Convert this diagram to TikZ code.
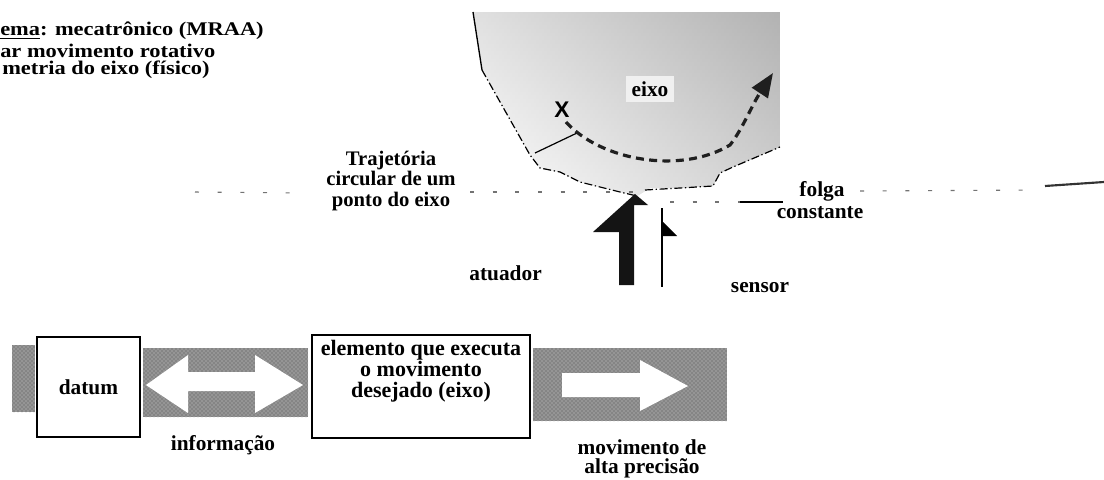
\documentclass[tikz,border=0pt]{standalone}
\usepackage{fontspec}
\setmainfont{Liberation Serif}
\newfontfamily\markfont{Liberation Sans}
\newfontfamily\widefont[FakeStretch=1.16]{Liberation Serif}
\usetikzlibrary{arrows.meta,patterns}

\begin{document}
\begin{tikzpicture}[x=0.75pt,y=-0.75pt,
  lbl/.style={font=\bfseries\fontsize{16}{21}\selectfont, inner sep=0pt, align=center},
  title/.style={font=\widefont\bfseries\fontsize{14.5}{14.3}\selectfont, inner sep=0pt, align=left, anchor=west},
  boxnode/.style={draw, line width=1pt, fill=white},
  band/.style={fill=black!48},
  bandtex/.style={pattern=crosshatch dots, pattern color=white!80!black},
  edge/.style={line width=0.9pt, dash pattern=on 6pt off 2pt on 1pt off 2pt},
  traj/.style={line width=2.4pt, dash pattern=on 6pt off 4pt, black!88,
               -{Triangle[length=18pt,width=14pt]}},
  gapline/.style={line width=0.8pt, dash pattern=on 3pt off 14pt, black!55},
]
\useasboundingbox (0,0) rectangle (1104,479);

% --- heading (left margin cut) ---
\node[title] (t1) at (0,31) {\underline{ema}: mecatrônico (MRAA)};
\node[title] (t2) at (0,50.5) {ar movimento rotativo};
\node[title] (t3) at (2,70) {metria do eixo (físico)};

% --- shaft cross-section ---
\begin{scope}
  \clip (473,12) -- (482,70) -- (530,155) -- (540,168) -- (560,172) -- (580,182)
        -- (620,192) -- (637,196) -- (650,188) -- (680,188) -- (713,186)
        -- (720,173) -- (733,167) -- (780,147) -- (780,12) -- cycle;
  \shade[left color=white, right color=black!45] (473,12) rectangle (780,200);
  \shade[top color=black!20, bottom color=white, opacity=0.6] (473,12) rectangle (780,200);
\end{scope}
\draw[line width=1pt] (473,12) -- (482,70);
\draw[edge] (482,70) -- (530,155) -- (540,168) -- (560,172) -- (580,182)
        -- (620,192) -- (637,196);
\draw[edge] (645,190) -- (680,188) -- (713,186) -- (720,173) -- (733,167) -- (780,147);

\node[lbl, fill=white!94!black, inner sep=4pt] (eixo) at (650,89) {eixo};
\node[font=\markfont\bfseries\fontsize{17}{17}\selectfont, inner sep=0pt] (xmark) at (562,110) {X};
\coordinate (xfoot) at (566,122);
\coordinate (rbase) at (535,153);
\coordinate (rtop) at (577,133);
\draw[line width=0.9pt] (rbase) -- (rtop);
\coordinate (tip) at (773,73);
\draw[traj] (xfoot) .. controls (600,160) and (680,175) .. (730,145)
            .. controls (742,130) and (752,105) .. (tip);

% --- gap lines ---
\draw[gapline] (195,192) -- (300,193);
\draw[gapline] (470,192) -- (640,192);
\draw[gapline] (670,202) -- (740,202);
\draw[line width=0.9pt] (740,202) -- (783,202);
\draw[gapline] (860,191) -- (1040,190);
\draw[line width=1.6pt, black!80] (1045,186) -- (1104,182);

% --- labels of the upper sketch ---
\node[lbl, font=\bfseries\fontsize{15.5}{15.5}\selectfont] (traj) at (391,181)
  {Trajetória\\circular de um\\ponto do eixo};
\node[lbl] (folga) at (822,191) {folga};
\node[lbl] (const) at (820,213) {constante};
\node[lbl, anchor=east] (atuador) at (542,273) {atuador};
\node[lbl] (sensor) at (760,288) {sensor};

% --- actuator and sensor arrows ---
\fill[black!92] (619,285) -- (619,232) -- (593,232) -- (635,194) -- (648,205)
      -- (634,205) -- (634,285) -- cycle;
\draw[line width=1pt] (662,208) -- (662,287);
\fill (663,222) -- (677,236) -- (663,236) -- cycle;

% --- block chain ---
\fill[band] (12,345) rectangle (35,412);
\fill[bandtex] (12,345) rectangle (35,412);
\node[boxnode, minimum width=103pt*0.75, minimum height=100pt*0.75, lbl] (datum)
  at (88.5,387) {datum};

\fill[band] (143,348) rectangle (308,417);
\fill[bandtex] (143,348) rectangle (308,417);
\fill[white] (146,385) -- (188,355) -- (188,372) -- (255,372) -- (255,355)
      -- (303,385) -- (255,413) -- (255,391) -- (188,391) -- (188,413) -- cycle;
\node[lbl] (info) at (223,445) {informação};

\node[boxnode, minimum width=218pt*0.75, minimum height=103pt*0.75] (elem) at (421,386.5) {};
\node[lbl, font=\bfseries\fontsize{16.5}{15.8}\selectfont] (elemtext) at (421,371)
  {elemento que executa\\o movimento\\desejado (eixo)};

\fill[band] (533,348) rectangle (727,421);
\fill[bandtex] (533,348) rectangle (727,421);
\fill[white] (562,373) -- (640,373) -- (640,360) -- (688,386) -- (640,411)
      -- (640,397) -- (562,397) -- cycle;
\node[lbl, font=\bfseries\fontsize{16}{14.5}\selectfont] (mov) at (642,459)
  {movimento de\\alta precisão};
\end{tikzpicture}
\end{document}
